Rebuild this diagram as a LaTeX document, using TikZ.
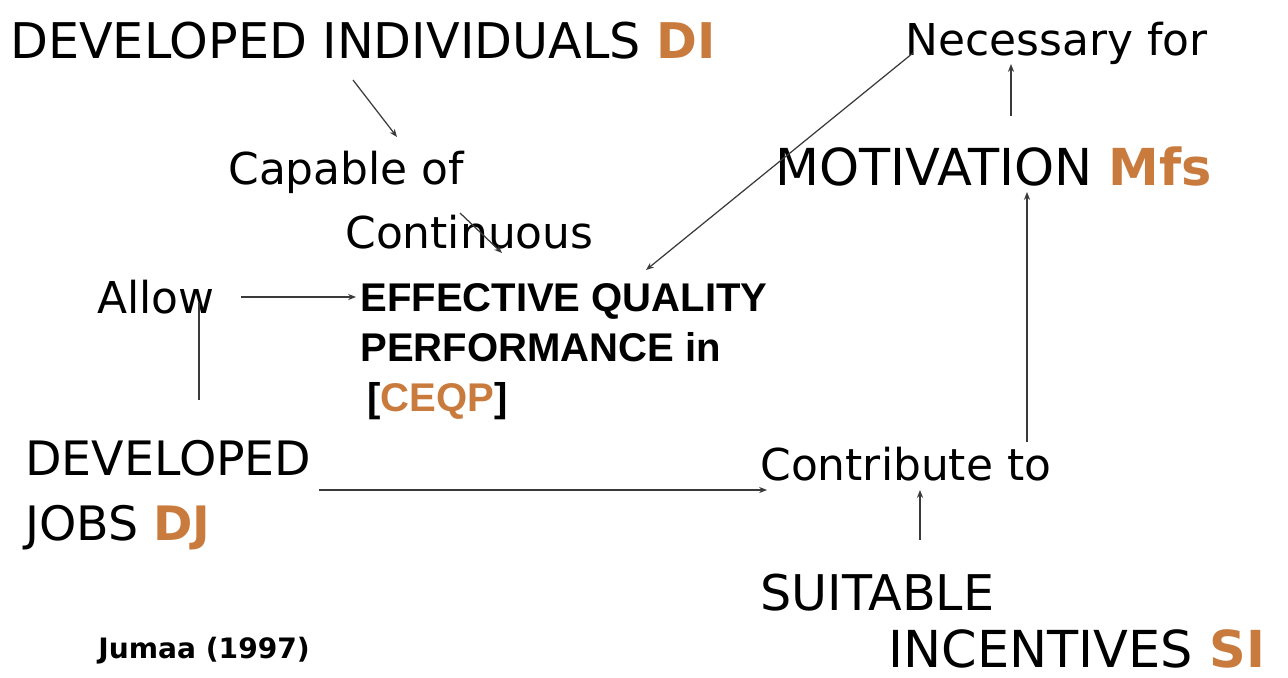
\documentclass[tikz,border=0pt]{standalone}
\usepackage{fontspec}
\setmainfont{DejaVu Sans}
\newfontfamily\arialfont{Liberation Sans}
\usepackage{xcolor}
\usepackage{tikz}
\usetikzlibrary{arrows.meta}
\definecolor{ink}{HTML}{000000}
\definecolor{line}{HTML}{3A3A3A}
\definecolor{accent}{HTML}{C97B3D}
\tikzset{
  lab/.style={inner sep=0pt, anchor=base west, text=ink, font=\fontsize{28}{37}\selectfont},
  labs/.style={lab, font=\fontsize{25}{30}\selectfont},
  labml/.style={inner sep=0pt, anchor=north west, align=left, text=ink},
  eff/.style={labml, font=\arialfont\bfseries\fontsize{22.8}{28.5}\selectfont},
  cite/.style={inner sep=0pt, anchor=base west, text=ink, font=\bfseries\fontsize{16}{19}\selectfont},
  conn/.style={draw=line, line width=0.7pt, -{Stealth[length=4.5pt,width=3.5pt]}},
  plain/.style={draw=line, line width=0.7pt}
}
\newcommand{\Acc}[1]{\textbf{\color{accent}#1}}

\begin{document}
\begin{tikzpicture}[x=0.02cm, y=-0.02cm]
  \useasboundingbox[fill=white] (0,0) rectangle (1288,677);

  \node[lab] (di) at (10,58) {DEVELOPED INDIVIDUALS \Acc{DI}};
  \node[labs] (nec) at (905,55) {Necessary for};
  \node[labs] (cap) at (228,184) {Capable of};
  \node[lab, font=\fontsize{29}{37}\selectfont] (mot) at (775,185) {MOTIVATION \Acc{Mfs}};
  \node[labs] (cont) at (345,248) {Continuous};
  \node[labs] (allow) at (97,313) {Allow};
  \node[eff] (eqp) at (360,283) {EFFECTIVE QUALITY\\PERFORMANCE in\\ \hspace*{4pt}[{\color{accent}CEQP}]};
  \node[labml, font=\fontsize{27}{37}\selectfont] (dj) at (25,440) {DEVELOPED\\JOBS \Acc{DJ}};
  \node[labs] (contr) at (760,480) {Contribute to};
  \node[labml, font=\fontsize{28}{32}\selectfont] (si) at (760,574) {SUITABLE\\\hspace*{73pt}{\fontsize{29}{32}\selectfont INCENTIVES \Acc{SI}}};
  \node[cite] (jumaa) at (98,658) {Jumaa (1997)};

  % links
  \draw[conn] ([shift={(343,22)}]di.base west) -- ([shift={(169,-47)}]cap.base west);
  \draw[conn] ([shift={(115,-35)}]cont.base west) -- ([shift={(157,5)}]cont.base west);
  \draw[conn] ([shift={(8,-2)}]nec.base west) -- ([shift={(286,-13)}]eqp.north west);
  \draw[conn] ([shift={(144,-16)}]allow.base west) -- ([shift={(-4,14)}]eqp.north west);
  \draw[plain] ([shift={(174,-40)}]dj.north west) -- ([shift={(102,-10)}]allow.base west);
  \draw[conn] ([shift={(236,-69)}]mot.base west) -- ([shift={(106,9)}]nec.base west);
  \draw[conn] ([shift={(267,-38)}]contr.base west) -- ([shift={(252,7)}]mot.base west);
  \draw[conn] ([shift={(294,50)}]dj.north west) -- ([shift={(7,10)}]contr.base west);
  \draw[conn] ([shift={(160,-34)}]si.north west) -- ([shift={(160,10)}]contr.base west);
\end{tikzpicture}
\end{document}
